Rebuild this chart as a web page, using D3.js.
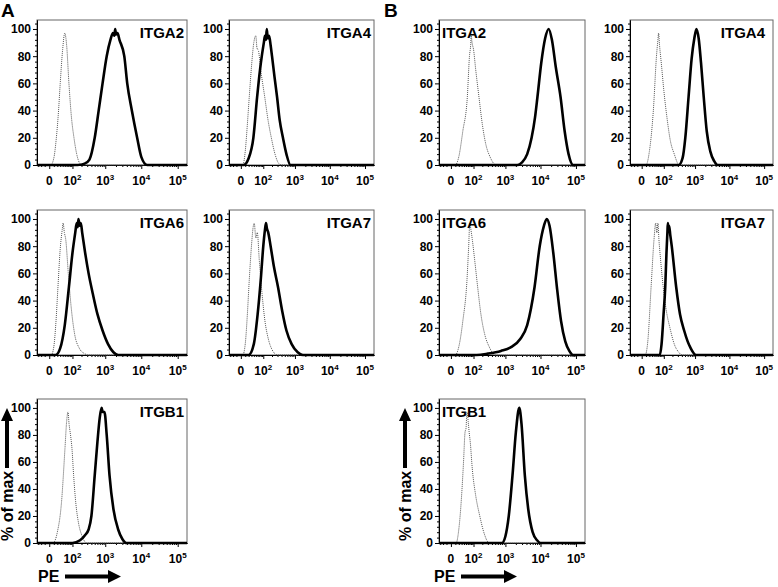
<!DOCTYPE html>
<html>
<head>
<meta charset="utf-8">
<script src="https://cdn.jsdelivr.net/npm/d3@7"></script>
<style>
    body { margin: 0; background: #fff; }
    text { font-family: "Liberation Sans", Arial, sans-serif; font-weight: bold; fill: #000; }
</style>
</head>
<body>
<svg id="chart" width="778" height="587"></svg>
<script>
// histogram overlays, % of max vs PE (biexponential-ish x axis)
var panelNames = ["ITGA2", "ITGA4", "ITGA6", "ITGA7", "ITGB1",
                  "ITGA2", "ITGA4", "ITGA6", "ITGA7", "ITGB1"];

var yTicks = [0, 20, 40, 60, 80, 100];
var xTickValues = [0, 100, 1000, 10000, 100000];
var xTickBase = ["0", "10", "10", "10", "10"];
var xTickExp = ["", "2", "3", "4", "5"];
var xMinorValues = [-30, -20, -10, 10, 20, 30, 40, 50, 60, 70, 80, 90,
                    200, 300, 400, 500, 600, 700, 800, 900,
                    2000, 3000, 4000, 5000, 6000, 7000, 8000, 9000,
                    20000, 30000, 40000, 50000, 60000, 70000, 80000, 90000];

// [PE value, % of max]; iso = dotted control, pe = stained
var isoA_ITGA2 = [[-35,0],[3,0],[10,5],[17,20],[24,40],[30,60],[40,85],[50,97],[60,88],[74,60],[92,35],[113,20],[140,8],[180,1],[220,0],[180000,0]];
var peA_ITGA2 = [[-35,0],[150,0],[250,1],[350,4],[500,20],[650,40],[840,60],[1100,80],[1400,92],[1650,97],[1800,95],[1900,100],[2000,96],[2200,97],[2500,92],[3400,80],[4100,60],[5500,40],[7700,20],[10000,6],[14500,0],[180000,0]];

var isoA_ITGA4 = [[-35,0],[4,0],[10,10],[16,30],[22,50],[30,72],[40,90],[50,95],[56,86],[65,84],[80,70],[113,50],[150,32],[190,20],[250,8],[330,1],[400,0],[180000,0]];
var peA_ITGA4 = [[-35,0],[6,0],[20,5],[38,20],[57,50],[75,70],[88,80],[105,90],[115,95],[125,92],[133,100],[145,93],[160,95],[180,88],[200,80],[240,65],[290,50],[350,33],[440,20],[560,8],[740,0],[180000,0]];

var isoA_ITGA6 = [[-35,0],[4,0],[10,6],[16,25],[22,50],[30,78],[38,92],[42,97],[48,90],[55,85],[70,60],[90,35],[120,15],[170,5],[250,1],[320,0],[180000,0]];
var peA_ITGA6 = [[-35,0],[15,0],[30,5],[50,22],[74,50],[100,75],[125,90],[140,97],[150,94],[160,100],[175,95],[190,97],[210,90],[260,75],[330,60],[440,45],[600,30],[840,18],[1200,8],[1700,2],[2300,0],[180000,0]];

var isoA_ITGA7 = [[-35,0],[4,0],[10,8],[16,30],[22,55],[30,80],[38,95],[42,97],[50,86],[58,90],[70,70],[90,45],[115,25],[150,12],[200,4],[300,0],[180000,0]];
var peA_ITGA7 = [[-35,0],[20,0],[40,8],[60,30],[80,55],[100,80],[115,92],[125,97],[135,93],[150,90],[180,80],[230,65],[310,50],[420,32],[560,18],[800,8],[1200,2],[1700,0],[180000,0]];

var isoA_ITGB1 = [[-35,0],[8,0],[20,8],[35,30],[51,70],[60,90],[68,97],[75,88],[85,80],[96,70],[110,50],[130,30],[160,15],[210,5],[290,0],[180000,0]];
var peA_ITGB1 = [[-35,0],[100,0],[180,2],[260,6],[330,10],[400,20],[500,50],[600,75],[700,93],[790,100],[850,97],[950,97],[1100,80],[1320,50],[1700,25],[2300,10],[3000,3],[3900,0],[180000,0]];

var isoB_ITGA2 = [[-35,0],[10,0],[20,6],[35,25],[57,50],[70,80],[78,88],[82,95],[88,90],[100,85],[120,70],[155,50],[200,30],[260,15],[350,6],[530,0],[180000,0]];
var peB_ITGA2 = [[-35,0],[2200,0],[3000,2],[4200,8],[5600,20],[7000,35],[8200,50],[10500,75],[13500,93],[17000,100],[21000,92],[27000,72],[36800,50],[48000,25],[62000,8],[83000,0],[180000,0]];

var isoB_ITGA4 = [[-35,0],[10,0],[20,10],[35,40],[50,80],[58,92],[62,97],[68,88],[80,75],[100,55],[130,35],[170,18],[230,8],[330,0],[180000,0]];
var peB_ITGA4 = [[-35,0],[320,0],[420,5],[510,20],[640,50],[790,78],[950,93],[1100,100],[1280,93],[1500,75],[1800,50],[2200,25],[2800,10],[3600,3],[4600,0],[180000,0]];

var isoB_ITGA6 = [[-35,0],[10,0],[20,6],[35,25],[55,55],[65,80],[72,97],[80,92],[90,85],[110,70],[140,50],[180,30],[240,15],[330,6],[500,0],[180000,0]];
var peB_ITGA6 = [[-35,0],[130,0],[300,1],[740,3],[1500,6],[2700,12],[4200,22],[6800,50],[9500,80],[12500,95],[15000,100],[18000,95],[23000,75],[29000,50],[38000,25],[50000,10],[65000,3],[83000,0],[180000,0]];

var isoB_ITGA7 = [[-35,0],[8,0],[15,10],[26,50],[38,85],[46,97],[52,90],[58,97],[64,85],[75,70],[95,50],[125,32],[165,20],[230,8],[320,2],[410,0],[180000,0]];
var peB_ITGA7 = [[-35,0],[70,0],[82,8],[98,30],[113,50],[125,75],[135,90],[140,97],[148,92],[155,95],[170,88],[190,80],[265,50],[350,30],[470,18],[600,10],[740,5],[1060,0],[180000,0]];

var isoB_ITGB1 = [[-35,0],[12,0],[20,10],[30,35],[38,60],[45,82],[50,85],[55,97],[62,90],[68,82],[75,75],[90,55],[120,35],[165,20],[230,7],[330,0],[180000,0]];
var peB_ITGB1 = [[-35,0],[790,0],[1000,5],[1250,20],[1600,50],[2000,82],[2500,100],[2900,88],[3600,50],[4500,25],[6000,8],[8000,2],[10000,0],[180000,0]];

var isoSeries = [isoA_ITGA2, isoA_ITGA4, isoA_ITGA6, isoA_ITGA7, isoA_ITGB1,
                 isoB_ITGA2, isoB_ITGA4, isoB_ITGA6, isoB_ITGA7, isoB_ITGB1];
var peSeries = [peA_ITGA2, peA_ITGA4, peA_ITGA6, peA_ITGA7, peA_ITGB1,
                peB_ITGA2, peB_ITGA4, peB_ITGA6, peB_ITGA7, peB_ITGB1];

// layout
var cols = [{x0: 37, x1: 187}, {x0: 229, x1: 374}, {x0: 439, x1: 585}, {x0: 630, x1: 773}];
var rows = [{y0: 20, y1: 165}, {y0: 210, y1: 355}, {y0: 399, y1: 543}];
var panelCol = [0, 1, 0, 1, 0, 2, 3, 2, 3, 2];
var panelRow = [0, 0, 1, 1, 2, 0, 0, 1, 1, 2];
var labelSide = ["r", "r", "r", "r", "r", "l", "r", "l", "r", "l"];

var svg = d3.select("#chart");

function drawPanel(i) {
    var c = cols[panelCol[i]], r = rows[panelRow[i]];

    var x = d3.scaleSymlog().constant(30)
        .domain([-35, 180000])
        .range([c.x0, c.x1]);
    var y = d3.scaleLinear()
        .domain([0, 106.6])
        .range([r.y1, r.y0]);

    var g = svg.append("g").attr("class", "panel" + i);

    g.append("rect")
        .attr("x", c.x0).attr("y", r.y0)
        .attr("width", c.x1 - c.x0).attr("height", r.y1 - r.y0)
        .attr("fill", "none").attr("stroke", "#666").attr("stroke-width", 1);

    //y minor ticks
    var yMinor = d3.range(0, 105, 4).filter(function(v) { return v % 20 !== 0; });
    g.append("g").attr("transform", "translate(" + c.x0 + ",0)")
        .call(d3.axisLeft(y).tickValues(yMinor).tickSize(2).tickSizeOuter(0).tickFormat(""));

    var yAxis = g.append("g").attr("transform", "translate(" + c.x0 + ",0)")
        .call(d3.axisLeft(y).tickValues(yTicks).tickSize(4).tickSizeOuter(0).tickPadding(2));
    yAxis.selectAll("text").attr("font-size", 12).style("font-family", "'Liberation Sans', Arial, sans-serif").style("font-weight", "bold");

    //x minor ticks
    g.append("g").attr("transform", "translate(0," + r.y1 + ")")
        .call(d3.axisBottom(x).tickValues(xMinorValues).tickSize(2).tickSizeOuter(0).tickFormat(""));
    g.append("g").attr("transform", "translate(0," + r.y1 + ")")
        .call(d3.axisBottom(x).tickValues(xTickValues).tickSize(4).tickSizeOuter(0).tickFormat(""));

    g.selectAll(".domain").attr("stroke", "#000");

    var lbl = g.selectAll(".xlbl").data(xTickValues).enter().append("text")
        .attr("class", "xlbl")
        .attr("x", function(d) { return x(d); })
        .attr("y", r.y1 + 20)
        .attr("text-anchor", "middle")
        .attr("font-size", 12);
    lbl.append("tspan").text(function(d, k) { return xTickBase[k]; });
    lbl.append("tspan").attr("dy", -5).attr("font-size", 8).text(function(d, k) { return xTickExp[k]; });

    var line = d3.line()
        .x(function(d) { return x(d[0]); })
        .y(function(d) { return y(d[1]); })
        .curve(d3.curveMonotoneX);

    g.append("path")
        .datum(isoSeries[i])
        .attr("d", line)
        .attr("fill", "none")
        .attr("stroke", "#555")
        .attr("stroke-width", 1)
        .attr("stroke-dasharray", "1,1");

    g.append("path")
        .datum(peSeries[i])
        .attr("d", line)
        .attr("fill", "none")
        .attr("stroke", "#000")
        .attr("stroke-width", 2.6)
        .attr("stroke-linejoin", "round");

    var t = g.append("text")
        .attr("y", r.y0 + 18)
        .attr("font-size", 15)
        .text(panelNames[i]);
    if (labelSide[i] === "l") {
        t.attr("x", c.x0 + 3).attr("text-anchor", "start");
    } else {
        t.attr("x", i >= 5 ? c.x1 - 8 : c.x1 - 3).attr("text-anchor", "end");
    }
}

for (var p = 0; p < panelNames.length; p++) {
    drawPanel(p);
}

// panel letters
svg.append("text").attr("x", 1).attr("y", 17).attr("font-size", 19).text("A");
svg.append("text").attr("x", 384).attr("y", 17).attr("font-size", 19).text("B");

// axis titles with arrows
function axisTitles(cx, px) {
    svg.append("text")
        .attr("transform", "translate(" + (cx + 6) + ",541) rotate(-90)")
        .attr("font-size", 16)
        .text("% of max");
    svg.append("path")
        .attr("d", "M" + (cx - 2) + ",468 L" + (cx - 2) + ",421 L" + (cx - 6) + ",421 L" + cx + ",408 L" + (cx + 6) + ",421 L" + (cx + 2) + ",421 L" + (cx + 2) + ",468 Z")
        .attr("fill", "#000");

    svg.append("text")
        .attr("x", px).attr("y", 582)
        .attr("font-size", 16)
        .text("PE");
    svg.append("path")
        .attr("d", "M" + (px + 27) + ",574.5 L" + (px + 70) + ",574.5 L" + (px + 70) + ",570 L" + (px + 83) + ",576.5 L" + (px + 70) + ",583 L" + (px + 70) + ",578.5 L" + (px + 27) + ",578.5 Z")
        .attr("fill", "#000");
}
axisTitles(7, 38);
axisTitles(405, 434);
</script>
</body>
</html>
